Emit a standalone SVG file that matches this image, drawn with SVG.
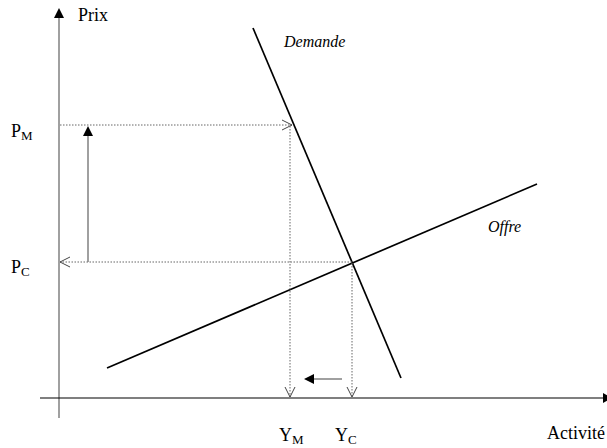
<svg xmlns="http://www.w3.org/2000/svg" width="607" height="448" viewBox="0 0 607 448">
<style>
text{font-family:"Liberation Serif","Times New Roman",serif;fill:#000}
.lbl{font-size:18px}
.sub{font-size:13px}
.it{font-size:16px;font-style:italic}
.dot{stroke:#666;stroke-width:1;stroke-dasharray:1.5,1.5;fill:none}
.open{stroke:#444;stroke-width:1;fill:none}
</style>
<rect width="607" height="448" fill="#fff"/>
<g id="axes">
<line x1="59" y1="418" x2="59" y2="18" stroke="#808080" stroke-width="1.5"/>
<path d="M54,18 L59,8 L64,18 Z" fill="#000"/>
<line x1="40" y1="398" x2="603" y2="398" stroke="#000" stroke-width="1.2"/>
<path d="M603,393 L612,398 L603,403 Z" fill="#000"/>
</g>
<g id="curves">
<line id="demande" x1="253" y1="28" x2="401" y2="378" stroke="#000" stroke-width="1.7"/>
<line id="offre" x1="107" y1="368" x2="537" y2="184" stroke="#000" stroke-width="1.7"/>
</g>
<g id="connectors">
<line class="dot" x1="60" y1="125" x2="292" y2="125"/>
<path class="open" d="M282,120 L292,125 L282,130"/>
<line class="dot" x1="290" y1="126" x2="290" y2="397"/>
<path class="open" d="M285,387 L290,397 L295,387"/>
<line class="dot" x1="352" y1="262" x2="60" y2="262"/>
<path class="open" d="M70,257 L60,262 L70,267"/>
<line class="dot" x1="352" y1="263" x2="352" y2="397"/>
<path class="open" d="M347,387 L352,397 L357,387"/>
<line x1="88" y1="262" x2="88" y2="135" stroke="#808080" stroke-width="1.5"/>
<path d="M83,136 L88,126 L93,136 Z" fill="#000"/>
<line x1="342" y1="379" x2="312" y2="379" stroke="#808080" stroke-width="1.5"/>
<path d="M314,374 L304,379 L314,384 Z" fill="#000"/>
</g>
<g id="labels">
<text class="lbl" x="78" y="21">Prix</text>
<text class="lbl" x="11" y="137">P<tspan class="sub" dy="3">M</tspan></text>
<text class="lbl" x="11" y="273">P<tspan class="sub" dy="3">C</tspan></text>
<text class="lbl" x="279" y="441">Y<tspan class="sub" dy="3">M</tspan></text>
<text class="lbl" x="335" y="441">Y<tspan class="sub" dy="3">C</tspan></text>
<text class="lbl" x="547" y="439">Activité</text>
<text class="it" x="284" y="47">Demande</text>
<text class="it" x="488" y="232">Offre</text>
</g>
</svg>
